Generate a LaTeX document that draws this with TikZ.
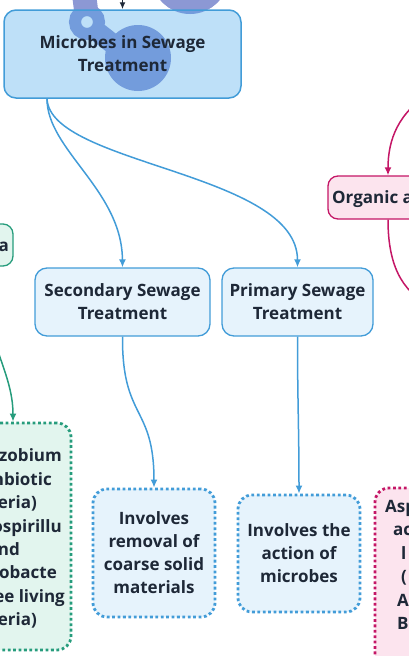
\documentclass[tikz,border=0pt]{standalone}
\usepackage{fontspec}
\setmainfont{Open Sans}
\usetikzlibrary{arrows.meta}

\definecolor{inkdark}{RGB}{30,40,55}
\definecolor{sewblue}{RGB}{66,156,216}
\definecolor{sewfill}{RGB}{69,166,235}
\definecolor{boxfill}{RGB}{230,243,252}
\definecolor{fixteal}{RGB}{38,156,124}
\definecolor{tealfill}{RGB}{226,245,238}
\definecolor{acidpink}{RGB}{196,22,102}
\definecolor{pinkfill}{RGB}{252,228,238}
\definecolor{logoblue}{RGB}{140,152,212}

\tikzset{
  txt/.style={font=\fontsize{17}{23}\selectfont\bfseries, text=inkdark, align=center},
  frag/.style={font=\fontsize{17}{23}\selectfont\bfseries, text=inkdark, inner sep=0pt},
  mainbox/.style={txt, draw=sewblue, fill=sewfill, fill opacity=0.35, text opacity=1, line width=1.5pt, rounded corners=12pt},
  subbox/.style={txt, draw=sewblue, fill=boxfill, line width=1.3pt, rounded corners=12pt, minimum height=68pt},
  dotbox/.style={txt, draw=sewblue, fill=boxfill, line width=2.8pt, dash pattern=on 2.8pt off 2.6pt, rounded corners=14pt},
  tealbox/.style={draw=fixteal, fill=tealfill, line width=1.3pt, rounded corners=10pt},
  tealdot/.style={draw=fixteal, fill=tealfill, line width=2.8pt, dash pattern=on 2.8pt off 2.6pt, rounded corners=14pt},
  pinkbox/.style={draw=acidpink, fill=pinkfill, line width=1.3pt, rounded corners=10pt},
  pinkdot/.style={draw=acidpink, fill=pinkfill, line width=2.8pt, dash pattern=on 2.8pt off 2.6pt, rounded corners=14pt},
  bluearrow/.style={draw=sewblue, line width=1.5pt, -{Latex[length=8pt,width=7pt]}},
  tealarrow/.style={draw=fixteal, line width=1.5pt, -{Latex[length=8pt,width=7pt]}},
  pinkarrow/.style={draw=acidpink, line width=1.5pt, -{Latex[length=8pt,width=7pt]}},
  darkarrow/.style={draw=inkdark, line width=1.3pt, -{Latex[length=7pt,width=6pt]}}
}

\begin{document}
\begin{tikzpicture}[x=1pt, y=-1pt]
\useasboundingbox (0,0) rectangle (409,656);
\clip (0,0) rectangle (409,656);

% logo mark, under the main box
\fill[logoblue] (138,58) circle[radius=33];
\draw[logoblue, line width=12pt] (87,22) circle[radius=12];
\draw[logoblue, line width=24pt] (84,-6) -- (86,10);
\draw[logoblue, line width=20pt] (95,30) -- (118,48);
\draw[logoblue, line width=18pt] (160,-25) arc[start angle=180, end angle=0, radius=30];

% main topic
\node[mainbox, minimum width=237pt, minimum height=88pt] (main) at (122.5,54) {Microbes in Sewage\\Treatment};
\node[subbox, minimum width=175pt] (sec) at (122.5,302) {Secondary Sewage\\Treatment};
\node[subbox, minimum width=151pt] (prim) at (297.5,302) {Primary Sewage\\Treatment};
\node[dotbox, minimum width=122pt, minimum height=128pt] (coarse) at (154,553) {Involves\\removal of\\coarse solid\\materials};
\node[dotbox, minimum width=122pt, minimum height=117pt] (action) at (299,553.5) {Involves the\\action of\\microbes};

% cut off neighbours
\node[tealbox, minimum width=60pt, minimum height=42pt] (bac) at (-17,245) {};
\node[frag, anchor=base east] (bactxt) at (9,251) {a};
\node[tealdot, minimum width=131pt, minimum height=227pt] (nit) at (5.5,536.5) {};
\node[frag, anchor=base east] (rz1) at (62,461) {zobium};
\node[frag, anchor=base east] (rz2) at (52,485) {nbiotic};
\node[frag, anchor=base east] (rz3) at (37,508) {eria)};
\node[frag, anchor=base east] (rz4) at (62,532) {ospirillu};
\node[frag, anchor=base east] (rz5) at (20,555) {nd};
\node[frag, anchor=base east] (rz6) at (57,578) {obacte};
\node[frag, anchor=base east] (rz7) at (65,602) {ee living};
\node[frag, anchor=base east] (rz8) at (37,625) {eria)};

\node[pinkbox, minimum width=120pt, minimum height=43pt] (org) at (388,197.5) {};
\node[frag, anchor=base west] (orgtxt) at (332,203.5) {Organic a};
\node[pinkdot, minimum width=105pt, minimum height=192pt] (asp) at (427.5,584) {};
\node[frag, anchor=base west] (as1) at (385,512) {Asp};
\node[frag, anchor=base west] (as2) at (393,535.5) {ac};
\node[frag, anchor=base west] (as3) at (401,559) {l};
\node[frag, anchor=base west] (as4) at (401,582.5) {(};
\node[frag, anchor=base west] (as5) at (397,606) {A};
\node[frag, anchor=base west] (as6) at (397,629.5) {B};

% connectors
\coordinate (above) at (122.5,-2);
\coordinate (rightin) at (432,92);
\coordinate (rightout) at (432,306);
\draw[darkarrow] (above) -- (main.north);
\draw[bluearrow] ([xshift=-75.5pt]main.south) .. controls (47,150) and (122,190) .. (sec.north);
\draw[bluearrow] ([xshift=-75.5pt]main.south) .. controls (50,165) and (297.5,172) .. (prim.north);
\draw[bluearrow] (sec.south) .. controls (122,420) and (154,405) .. (coarse.north);
\draw[bluearrow] (prim.south) .. controls (297.5,400) and (299,430) .. (action.north);
\draw[tealarrow] (bac.south) .. controls (-17,340) and (13,370) .. ([xshift=7.5pt]nit.north);
\draw[pinkarrow] (rightin) .. controls (398,112) and (388,140) .. (org.north);
\draw[acidpink, line width=1.5pt] (org.south) .. controls (388,262) and (400,292) .. (rightout);
\end{tikzpicture}
\end{document}
